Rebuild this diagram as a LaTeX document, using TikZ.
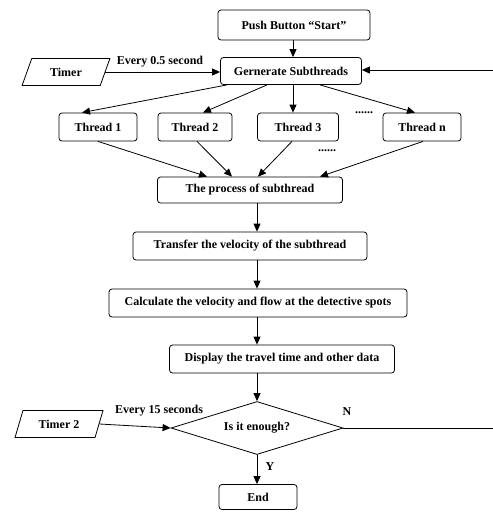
\documentclass[tikz,border=0pt]{standalone}
\usepackage{fontspec}
\setmainfont{Liberation Serif}
\usetikzlibrary{shapes.geometric,arrows.meta,calc}
\begin{document}
\begin{tikzpicture}[x=1pt,y=-1pt,
  every node/.style={font=\fontsize{12}{14}\selectfont\bfseries, inner sep=1pt},
  box/.style={draw, rounded corners=3pt, line width=0.8pt, inner sep=0pt},
  para/.style={draw, trapezium, trapezium left angle=62, trapezium right angle=118, trapezium stretches=true, line width=0.8pt, inner sep=0pt, minimum height=27pt, minimum width=88pt},
  dia/.style={draw, diamond, aspect=3.2, line width=0.8pt, inner sep=0pt, minimum width=172pt, minimum height=53pt},
  arr/.style={-{Triangle[length=8pt,width=7pt]}, line width=0.8pt},
  lbl/.style={inner sep=0pt}
]
\useasboundingbox (0,0) rectangle (493,512);
% boxes
\node[box, minimum width=152pt, minimum height=30pt] (start) at (294,25) {Push Button ``Start''};
\node[box, minimum width=141pt, minimum height=27pt] (gen) at (291,71) {Gernerate Subthreads};
\node[para] (timer) at (66,72) {Timer};
\node[lbl] (ev1) at (160,62) {Every 0.5 second};
\node[box, minimum width=78pt, minimum height=28pt] (t1) at (98,127) {Thread 1};
\node[box, minimum width=74pt, minimum height=28pt] (t2) at (195,127) {Thread 2};
\node[box, minimum width=81pt, minimum height=28pt] (t3) at (298,127) {Thread 3};
\node[box, minimum width=78pt, minimum height=28pt] (tn) at (422,127) {Thread n};
\node[lbl] (dots1) at (364,113) {......};
\node[lbl] (dots2) at (327,151) {......};
\node[box, minimum width=185pt, minimum height=26pt] (proc) at (250,190) {The process of subthread};
\node[box, minimum width=234pt, minimum height=28pt] (trans) at (250,246) {Transfer the velocity of the subthread};
\node[box, minimum width=298pt, minimum height=28pt] (calc) at (258,303) {Calculate the velocity and flow at the detective spots};
\node[box, minimum width=225pt, minimum height=28pt] (disp) at (282,359) {Display the travel time and other data};
\node[dia] (dec) at (257,428) {Is it enough?};
\node[para] (timer2) at (59,424) {Timer 2};
\node[lbl] (ev2) at (159,411) {Every 15 seconds};
\node[lbl] (nlab) at (347,412) {N};
\node[lbl] (ylab) at (270,467) {Y};
\node[box, minimum width=78pt, minimum height=25pt] (end) at (258,497) {End};
% connectors
\draw[arr] (start.south -| 293,0) -- (gen.north -| 293,0);
\draw[arr] (timer.east) -- (timer.east -| gen.west);
\draw[arr] ([xshift=-64pt]gen.south) -- ([xshift=-16pt]t1.north);
\draw[arr] ([xshift=-24pt]gen.south) -- ([xshift=8pt]t2.north);
\draw[arr] ([xshift=2pt]gen.south) -- ([xshift=-5pt]t3.north);
\draw[arr] ([xshift=29pt]gen.south) -- ([xshift=-7pt]tn.north);
\draw[arr] (t1.south) -- ([xshift=-43pt]proc.north);
\draw[arr] ([xshift=2pt]t2.south) -- ([xshift=-18pt]proc.north);
\draw[arr] ([xshift=-6pt]t3.south) -- ([xshift=8pt]proc.north);
\draw[arr] ([xshift=1pt]tn.south) -- ([xshift=70pt]proc.north);
\draw[arr] (proc.south -| dec.north) -- (trans.north -| dec.north);
\draw[arr] (trans.south -| dec.north) -- (calc.north -| dec.north);
\draw[arr] (calc.south -| dec.north) -- (disp.north -| dec.north);
\draw[arr] (disp.south -| dec.north) -- (dec.north);
\draw[arr] (timer2.east) -- (dec.west);
\draw[arr] (dec.south) -- (end.north -| dec.south);
\draw[arr] (dec.east) -- ++(153,0) |- ([yshift=1pt]gen.east);
\end{tikzpicture}
\end{document}
